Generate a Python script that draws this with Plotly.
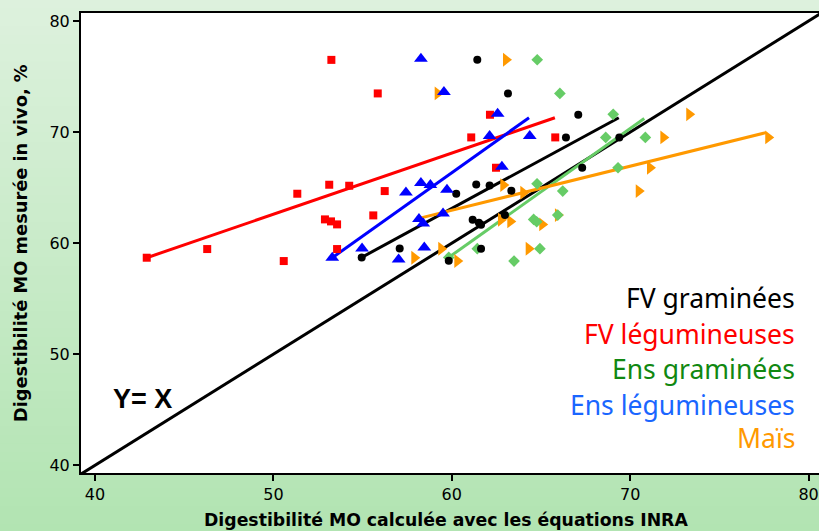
import plotly.graph_objects as go

# ---------------- data ----------------
fv_gram_x = [61.43, 63.15, 67.09, 66.40, 69.39, 67.31, 61.37, 62.12, 63.34, 60.25, 61.17, 61.52, 61.64, 62.98, 57.08, 61.64, 59.83, 54.95]
fv_gram_y = [76.51, 73.48, 71.56, 69.52, 69.52, 66.79, 65.29, 65.20, 64.72, 64.45, 62.11, 61.84, 61.66, 62.53, 59.53, 59.50, 58.42, 58.72]

fv_leg_x = [53.25, 55.85, 53.13, 54.25, 51.34, 52.89, 53.23, 53.57, 55.60, 42.90, 46.29, 53.57, 50.58, 62.14, 61.09, 65.80, 62.48, 56.24]
fv_leg_y = [76.50, 73.48, 65.26, 65.17, 64.45, 62.14, 61.96, 61.69, 62.50, 58.69, 59.47, 59.47, 58.39, 71.56, 69.52, 69.52, 66.79, 64.69]

ens_gram_x = [64.79, 66.06, 69.05, 68.63, 70.85, 69.32, 64.78, 66.22, 65.94, 64.59, 64.76, 61.43, 64.94, 59.83, 63.49]
ens_gram_y = [76.51, 73.48, 71.60, 69.52, 69.52, 66.79, 65.35, 64.69, 62.53, 62.14, 61.93, 59.50, 59.50, 58.72, 58.39]

ens_leg_x = [58.27, 59.56, 62.57, 62.12, 64.37, 62.81, 58.27, 58.80, 59.73, 57.43, 59.51, 58.16, 58.40, 58.46, 57.02, 54.97, 53.30]
ens_leg_y = [76.60, 73.60, 71.65, 69.64, 69.64, 66.88, 65.41, 65.23, 64.81, 64.57, 62.68, 62.17, 61.78, 59.62, 58.54, 59.53, 58.69]

mais_x = [63.04, 59.21, 71.86, 71.11, 62.89, 64.01, 70.48, 65.95, 62.76, 63.28, 65.07, 64.31, 59.41, 57.90, 60.31, 73.31, 77.74]
mais_y = [76.51, 73.48, 69.52, 66.79, 65.23, 64.54, 64.69, 62.53, 62.11, 61.96, 61.69, 59.50, 59.50, 58.69, 58.39, 71.60, 69.52]

# regression lines (end points)
fit_fv_gram_x = [54.95, 69.36]
fit_fv_gram_y = [58.72, 71.29]
fit_fv_leg_x = [42.90, 65.78]
fit_fv_leg_y = [58.69, 71.29]
fit_ens_gram_x = [59.83, 70.79]
fit_ens_gram_y = [58.72, 71.23]
fit_ens_leg_x = [53.30, 64.33]
fit_ens_leg_y = [58.69, 71.29]
fit_mais_x = [58.16, 77.61]
fit_mais_y = [62.23, 69.95]

identity_line = [39.0, 81.0]

tick_vals = [40, 50, 60, 70, 80]
series_names = ["FV graminées", "FV légumineuses", "Ens graminées", "Ens légumineuses", "Maïs"]

x_title = "Digestibilité MO calculée avec les équations INRA"
y_title = "Digestibilité MO mesurée in vivo, %"

# ---------------- styles ----------------
BLACK = "#000000"
RED = "#ff0000"
GREEN_M = "#66cc66"
BLUE = "#0000ff"
ORANGE = "#ff9900"
label_colors = ["#000000", "#ff0000", "#118811", "#1a66ff", "#ff9900"]

fig = go.Figure()

# identity line
fig.add_trace(go.Scatter(x=identity_line, y=identity_line, mode="lines",
                         line=dict(color=BLACK, width=3), hoverinfo="skip"))

lines = [
    (fit_fv_leg_x, fit_fv_leg_y, RED),
    (fit_ens_leg_x, fit_ens_leg_y, BLUE),
    (fit_fv_gram_x, fit_fv_gram_y, BLACK),
    (fit_ens_gram_x, fit_ens_gram_y, GREEN_M),
    (fit_mais_x, fit_mais_y, ORANGE),
]
for lx, ly, c in lines:
    fig.add_trace(go.Scatter(x=lx, y=ly, mode="lines", line=dict(color=c, width=3), hoverinfo="skip"))

pts = [
    (fv_leg_x, fv_leg_y, RED, "square", 8, series_names[1]),
    (mais_x, mais_y, ORANGE, "triangle-right", 12, series_names[4]),
    (ens_gram_x, ens_gram_y, GREEN_M, "diamond", 9, series_names[2]),
    (fv_gram_x, fv_gram_y, BLACK, "circle", 8, series_names[0]),
    (ens_leg_x, ens_leg_y, BLUE, "triangle-up", 12, series_names[3]),
]
for px, py, c, sym, s, nm in pts:
    fig.add_trace(go.Scatter(x=px, y=py, mode="markers", name=nm,
                             marker=dict(color=c, symbol=sym, size=s, line=dict(width=0))))

# background gradient (paper) + white plot area
shapes = []
n = 60
top_rgb = (221, 241, 221)
bot_rgb = (178, 228, 178)
y_top, y_bot = 1.03, -0.13
for i in range(n):
    t = i / (n - 1)
    r = round(top_rgb[0] + (bot_rgb[0] - top_rgb[0]) * t)
    g = round(top_rgb[1] + (bot_rgb[1] - top_rgb[1]) * t)
    b = round(top_rgb[2] + (bot_rgb[2] - top_rgb[2]) * t)
    y1 = y_top + (y_bot - y_top) * i / n
    y0 = y_top + (y_bot - y_top) * (i + 1) / n
    shapes.append(dict(type="rect", xref="paper", yref="paper", x0=-0.2, x1=1.1, y0=y0 - 0.002, y1=y1,
                       fillcolor=f"rgb({r},{g},{b})", line=dict(width=0), layer="below"))
shapes.append(dict(type="rect", xref="paper", yref="paper", x0=0, x1=1, y0=0, y1=1,
                   fillcolor="white", line=dict(width=0), layer="below"))

annotations = []
label_y = [0.380, 0.302, 0.226, 0.147, 0.076]
for txt, col, yy in zip(series_names, label_colors, label_y):
    annotations.append(dict(text=txt, xref="paper", yref="paper", x=0.969, y=yy,
                            xanchor="right", yanchor="middle", showarrow=False, borderpad=0,
                            font=dict(family="Noto Sans", size=26.5, color=col)))
annotations.append(dict(text="<b>Y= X</b>", xref="paper", yref="paper", x=0.0827, y=0.1615,
                        xanchor="center", yanchor="middle", showarrow=False,
                        font=dict(family="Liberation Sans", size=27, color="black")))
annotations.append(dict(text=f"<b>{x_title}</b>", xref="paper", yref="paper", x=0.494, y=-0.102,
                        xanchor="center", yanchor="middle", showarrow=False,
                        font=dict(family="DejaVu Sans", size=17.3, color="black")))
annotations.append(dict(text=f"<b>{y_title}</b>", xref="paper", yref="paper", x=-0.082, y=0.501,
                        xanchor="center", yanchor="middle", showarrow=False, textangle=-90,
                        font=dict(family="DejaVu Sans", size=17.8, color="black")))

fig.update_layout(
    width=819, height=531,
    margin=dict(l=81, r=0, t=13, b=58),
    paper_bgcolor="#c8eac8",
    plot_bgcolor="white",
    showlegend=False,
    shapes=shapes,
    annotations=annotations,
    xaxis=dict(range=[39.215, 80.585], tickvals=tick_vals, showgrid=False, zeroline=False,
               showline=True, linecolor="black", linewidth=2, mirror=True,
               ticks="outside", ticklen=6, tickwidth=1.5, tickcolor="black",
               tickfont=dict(family="DejaVu Sans", size=16, color="black")),
    yaxis=dict(range=[39.31, 80.72], tickvals=tick_vals, showgrid=False, zeroline=False,
               showline=True, linecolor="black", linewidth=2, mirror=False,
               ticks="outside", ticklen=6, tickwidth=1.5, tickcolor="black",
               tickfont=dict(family="DejaVu Sans", size=16, color="black")),
)

fig.write_html("out.html", config={"displayModeBar": False},
               post_script="document.body.style.margin='0';document.body.style.overflow='hidden';")
